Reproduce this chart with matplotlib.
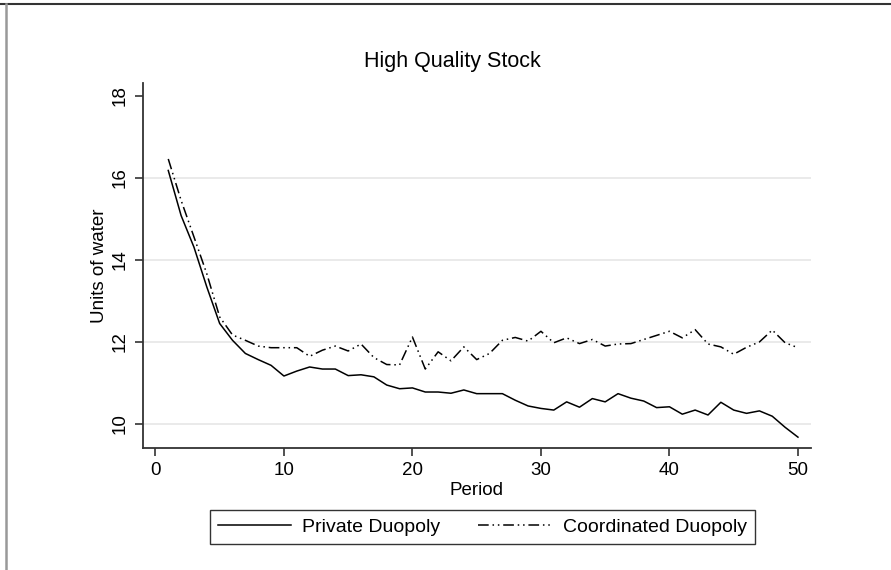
import matplotlib
matplotlib.use("Agg")
import matplotlib.pyplot as plt
from matplotlib.lines import Line2D

periods = list(range(1, 51))
private = [16.18, 15.08, 14.31, 13.34, 12.45, 12.04, 11.72, 11.57, 11.43, 11.17,
           11.29, 11.39, 11.34, 11.34, 11.18, 11.20, 11.15, 10.95, 10.86, 10.88,
           10.78, 10.78, 10.75, 10.83, 10.74, 10.74, 10.74, 10.58, 10.44, 10.38,
           10.34, 10.54, 10.41, 10.62, 10.54, 10.74, 10.63, 10.56, 10.40, 10.42,
           10.24, 10.34, 10.22, 10.53, 10.34, 10.26, 10.32, 10.19, 9.92, 9.68]
coordinated = [16.46, 15.45, 14.56, 13.66, 12.61, 12.17, 12.04, 11.90, 11.86, 11.86,
               11.86, 11.65, 11.80, 11.90, 11.78, 11.95, 11.62, 11.45, 11.44, 12.12,
               11.34, 11.76, 11.54, 11.88, 11.57, 11.72, 12.04, 12.11, 12.02, 12.26,
               11.98, 12.10, 11.96, 12.06, 11.90, 11.95, 11.96, 12.06, 12.16, 12.26,
               12.10, 12.30, 11.95, 11.88, 11.70, 11.87, 12.00, 12.29, 11.98, 11.86]
xticks = [0, 10, 20, 30, 40, 50]
yticks = [10, 12, 14, 16, 18]
gridvals = [10, 12, 14, 16]

plt.rcParams['font.family'] = ['Liberation Sans', 'DejaVu Sans']
FS = 13.5

fig = plt.figure(figsize=(8.91, 5.70), dpi=100)
ax = fig.add_axes([0.160, 0.214, 0.750, 0.641])

for g in gridvals:
    ax.axhline(g, color='#e6e6e6', lw=1.2, zorder=0)

ax.plot(periods, private, color='black', lw=1.1, label='Private Duopoly')
ax.plot(periods, coordinated, color='black', lw=1.1,
        dashes=(7, 2.5, 1, 2.5, 1, 2.5), label='Coordinated Duopoly')

ax.set_xlim(-1, 51)
ax.set_ylim(9.415, 18.32)
ax.set_xticks(xticks)
ax.set_yticks(yticks)
ax.tick_params(axis='both', direction='out', length=6, width=1.2, color='#333333',
               labelsize=FS, pad=4)
for lab in ax.get_yticklabels():
    lab.set_rotation(90)
    lab.set_va('center')

for s in ['top', 'right']:
    ax.spines[s].set_visible(False)
for s in ['left', 'bottom']:
    ax.spines[s].set_color('#333333')
    ax.spines[s].set_linewidth(1.3)

ax.set_xlabel('Period', fontsize=FS, labelpad=2)
ax.set_ylabel('Units of water', fontsize=FS, labelpad=3)
fig.text(0.508, 1 - 62/570, 'High Quality Stock', fontsize=15.5,
         ha='center', va='center')

leg = fig.legend(loc='center', bbox_to_anchor=(0.5415, 0.0754), ncol=2,
                 fontsize=14, frameon=True, fancybox=False, handlelength=3.75,
                 columnspacing=1.95, borderpad=0.4, handletextpad=0.6,
                 borderaxespad=0)
leg.get_frame().set_edgecolor('black')
leg.get_frame().set_linewidth(1.0)

fig.add_artist(Line2D([0, 1], [1 - 3.5/570, 1 - 3.5/570], transform=fig.transFigure,
                      color='#333333', lw=1.5))
fig.add_artist(Line2D([5.5/891, 5.5/891], [0, 1 - 3.5/570], transform=fig.transFigure,
                      color='#999999', lw=1.8))

fig.savefig('out.png', dpi=100, facecolor='white')
